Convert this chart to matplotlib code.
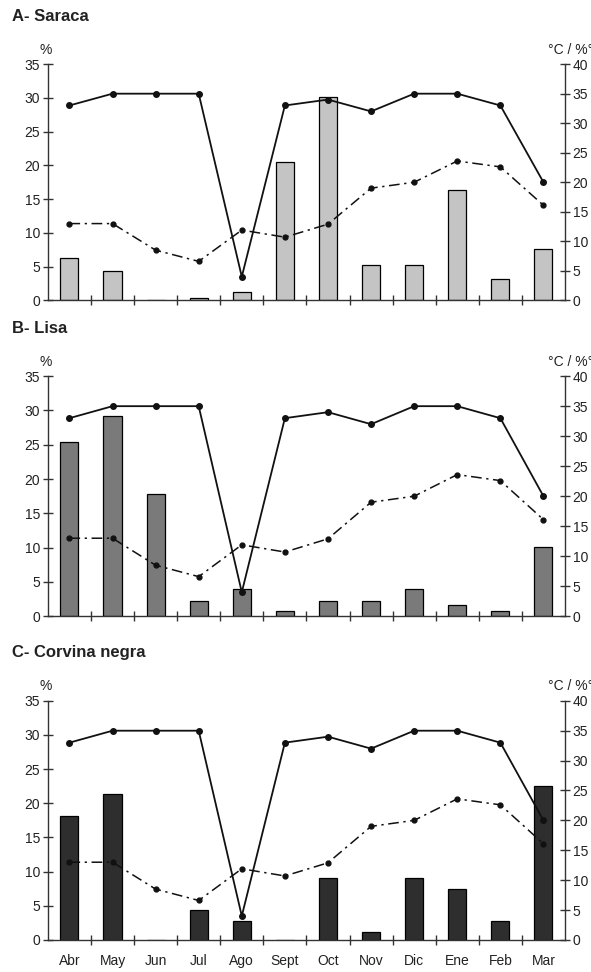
import matplotlib.pyplot as plt
import numpy as np

plt.rcParams['font.family'] = ['Liberation Sans', 'DejaVu Sans']

months = ["Abr", "May", "Jun", "Jul", "Ago", "Sept", "Oct", "Nov", "Dic", "Ene", "Feb", "Mar"]

# temperatura (°C) y salinidad, eje derecho
temperature = [33, 35, 35, 35, 4, 33, 34, 32, 35, 35, 33, 20]
salinity = [13, 13, 8.5, 6.6, 11.9, 10.7, 12.9, 19, 20, 23.6, 22.6, 16.1]

# porcentaje por especie, eje izquierdo
saraca = [6.3, 4.3, 0, 0.3, 1.2, 20.5, 30.2, 5.2, 5.2, 16.3, 3.1, 7.6]
lisa = [25.4, 29.2, 17.8, 2.2, 3.9, 0.7, 2.2, 2.2, 3.9, 1.6, 0.7, 10.1]
corvina = [18.1, 21.4, 0, 4.4, 2.8, 0, 9.0, 1.2, 9.0, 7.5, 2.8, 22.6]

panels = [
    ("A- Saraca", saraca, "#c4c4c4", [0.081, 0.691, 0.875, 0.243]),
    ("B- Lisa", lisa, "#7a7a7a", [0.081, 0.366, 0.875, 0.247]),
    ("C- Corvina negra", corvina, "#2e2e2e", [0.081, 0.033, 0.875, 0.246]),
]

fig = plt.figure(figsize=(5.91, 9.72), dpi=100)
x = np.arange(len(months))

for i, (title, vals, color, rect) in enumerate(panels):
    ax = fig.add_axes(rect)
    ax.bar(x, vals, width=0.42, color=color, edgecolor="black", linewidth=0.9, zorder=2)
    ax.set_xlim(-0.5, len(months) - 0.5)
    ax.set_ylim(0, 35)
    ax.set_yticks(range(0, 36, 5))
    ax.spines["top"].set_visible(False)
    ax.spines["right"].set_visible(False)
    for s in ("left", "bottom"):
        ax.spines[s].set_color("#333333")
        ax.spines[s].set_linewidth(1.0)
    ax.tick_params(axis="y", direction="inout", length=7, width=1.0, labelsize=10,
                   colors="#333333", labelcolor="#222222", pad=2)
    ax.set_xticks(x)
    ax.set_xticks(x[:-1] + 0.5, minor=True)
    ax.tick_params(axis="x", which="major", length=0, labelsize=10, labelcolor="#222222", pad=10)
    ax.tick_params(axis="x", which="minor", direction="inout", length=7, width=1.0, colors="#333333")
    if i == len(panels) - 1:
        ax.set_xticklabels(months)
    else:
        ax.set_xticklabels([])

    ax2 = ax.twinx()
    ax2.set_ylim(0, 40)
    ax2.set_yticks(range(0, 41, 5))
    ax2.spines["top"].set_visible(False)
    ax2.spines["left"].set_visible(False)
    ax2.spines["bottom"].set_visible(False)
    ax2.spines["right"].set_color("#333333")
    ax2.spines["right"].set_linewidth(1.0)
    ax2.tick_params(axis="y", direction="inout", length=7, width=1.0, labelsize=10,
                    colors="#333333", labelcolor="#222222", pad=2)
    ax2.plot(x, temperature, color="#111111", linewidth=1.3, marker="o", markersize=4, zorder=3)
    ax2.plot(x, salinity, color="#111111", linewidth=1.1, marker="o", markersize=3.5,
             dashes=(7, 3, 1.5, 3), zorder=3)

    ax.text(-0.07, 1.2, title, transform=ax.transAxes, fontsize=12,
            fontweight="bold", ha="left", va="center", color="#222222")
    ax.text(-0.005, 1.06, "%", transform=ax.transAxes, fontsize=10, ha="center",
            va="center", color="#222222")
    ax.text(1.01, 1.06, "°C / %°", transform=ax.transAxes, fontsize=10, ha="center",
            va="center", color="#222222")

fig.savefig("out.png", dpi=100)
